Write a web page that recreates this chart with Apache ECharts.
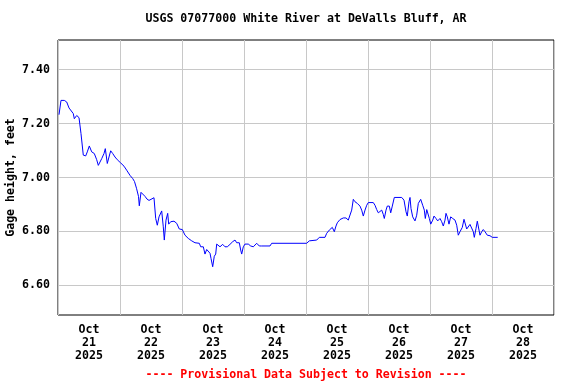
<!DOCTYPE html>
<html>
<head>
<meta charset="utf-8">
<script src="https://cdn.jsdelivr.net/npm/echarts@6/dist/echarts.min.js"></script>
<style>html,body{margin:0;padding:0;background:#fff}#c{width:576px;height:384px}</style>
</head>
<body>
<div id="c"></div>
<script>
// Hours since 2025-10-21 00:00
const hours = [0.39,1.16,2.44,3.37,4.26,5.03,5.92,6.31,7.24,8.13,8.52,8.90,9.79,10.72,11.34,12.12,13.05,14.05,14.98,15.60,16.2,16.92,17.81,18.31,19.08,19.74,20.40,21.17,22.07,22.95,24.27,25.55,26.59,27.87,28.92,
29.61,30.39,31.16,31.47,32.13,32.9,33.68,34.45,35.23,36.0,37.16,37.82,38.44,39.1,40.14,40.76,41.15,41.81,42.46,42.85,43.63,44.9,45.95,46.95,48.12,49.16,50.44,51.76,53.03,54.70,55.24,56.25,56.9,57.56,58.18,58.84,59.23,59.88,60.5,61.05,61.43,62.05,62.71,63.75,64.65,65.54,66.58,67.63,68.52,69.17,70.18,70.72,71.11,71.73,72.39,73.66,74.59,75.6,76.92,77.92,78.85,82.06,82.72,96.27,97.28,100.15,101.15,103.35,104.01,105.02,106.18,106.96,107.61,108.12,109.16,110.44,111.48,112.37,113.03,113.69,114.31,114.97,115.86,116.9,117.56,118.18,118.84,119.5,120.12,122.05,122.71,123.37,123.99,124.65,125.31,125.92,126.31,126.97,127.47,128.25,128.79,129.41,130.18,133.05,133.94,134.71,135.21,135.87,136.26,136.65,137.3,138.19,138.85,139.48,140.4,141.17,141.8,142.19,142.74,143.35,143.74,144.28,145.06,145.55,146.32,146.98,147.87,148.53,149.15,149.81,150.19,150.7,151.35,152.01,152.79,153.68,154.34,154.95,155.61,156.5,157.16,157.55,158.21,158.83,159.48,160.14,160.76,161.15,161.81,162.31,162.97,163.35,164.01,164.63,165.29,166.18,167.23,168.12,170.21];
const gage = [7.233,7.286,7.286,7.28,7.258,7.256,7.237,7.218,7.23,7.222,7.218,7.163,7.083,7.08,7.095,7.117,7.095,7.089,7.066,7.045,7.04,7.07,7.089,7.107,7.052,7.076,7.099,7.089,7.076,7.066,7.054,7.042,7.027,7.008,6.996,
6.985,6.96,6.93,6.895,6.945,6.94,6.93,6.92,6.915,6.92,6.925,6.848,6.823,6.854,6.876,6.817,6.768,6.842,6.867,6.827,6.836,6.838,6.830,6.809,6.807,6.786,6.774,6.765,6.758,6.756,6.743,6.743,6.716,6.733,6.737,6.719,6.70,6.669,6.708,6.716,6.753,6.753,6.743,6.752,6.743,6.743,6.752,6.762,6.768,6.758,6.758,6.731,6.716,6.743,6.753,6.753,6.746,6.743,6.756,6.746,6.746,6.746,6.756,6.756,6.765,6.768,6.778,6.778,6.793,6.805,6.815,6.799,6.82,6.832,6.844,6.85,6.85,6.842,6.838,6.879,6.919,6.91,6.904,6.894,6.879,6.857,6.879,6.897,6.907,6.907,6.897,6.881,6.869,6.873,6.879,6.863,6.848,6.879,6.894,6.894,6.869,6.894,6.926,6.926,6.916,6.873,6.857,6.91,6.926,6.885,6.854,6.839,6.86,6.904,6.919,6.897,6.879,6.848,6.881,6.881,6.848,6.827,6.842,6.857,6.848,6.839,6.848,6.836,6.82,6.842,6.867,6.854,6.827,6.854,6.848,6.842,6.823,6.786,6.799,6.815,6.845,6.842,6.809,6.811,6.826,6.826,6.799,6.778,6.811,6.838,6.805,6.786,6.799,6.807,6.799,6.786,6.784,6.778,6.778];
const yTicks = [6.60, 6.80, 7.00, 7.20, 7.40];
const dayLabels = ['21','22','23','24','25','26','27','28'];
const monthLabel = 'Oct';
const yearLabel = '2025';
const titleText = 'USGS 07077000 White River at DeValls Bluff, AR';
const footerText = '---- Provisional Data Subject to Revision ----';
const yName = 'Gage height, feet';

const start = Date.UTC(2025, 9, 21, 0, 0);
const H = 3600 * 1000;
const D = 24 * H;
const data = hours.map((h, i) => [start + h * H, gage[i]]);
const midnights = [];
for (let i = 0; i <= 8; i++) midnights.push(start + i * D);
const noons = dayLabels.map((d, i) => start + i * D + 12 * H);

const FONT = '"DejaVu Sans Mono", monospace';
const chart = echarts.init(document.getElementById('c'), null, {renderer: 'canvas'});
chart.setOption({
  animation: false,
  backgroundColor: '#ffffff',
  grid: {left: 58, top: 40, width: 496, height: 275, show: true, borderColor: '#000', borderWidth: 1, backgroundColor: 'transparent', containLabel: false, outerBoundsMode: 'none'},
  graphic: [
    {type: 'text', x: 306, y: 19, style: {text: titleText, fill: '#000', font: 'bold 11.6px ' + FONT, textAlign: 'center', textVerticalAlign: 'middle'}},
    {type: 'text', x: 306, y: 375, style: {text: footerText, fill: '#ff0000', font: 'bold 11.6px ' + FONT, textAlign: 'center', textVerticalAlign: 'middle'}}
  ],
  xAxis: {
    type: 'value', min: start, max: start + 8 * D,
    axisLine: {show: false},
    axisTick: {show: false, customValues: midnights},
    splitLine: {show: true, lineStyle: {color: '#c8c8c8', width: 1}},
    axisLabel: {
      customValues: noons, margin: 8,
      formatter: v => monthLabel + '\n' + dayLabels[Math.floor((v - start) / D)] + '\n' + yearLabel,
      color: '#000', fontFamily: FONT, fontWeight: 'bold', fontSize: 11.6, lineHeight: 13, align: 'center'
    }
  },
  yAxis: {
    type: 'value', min: 6.49, max: 7.51,
    name: yName, nameLocation: 'middle', nameGap: 41, nameRotate: 90, nameMoveOverlap: false,
    nameTextStyle: {color: '#000', fontFamily: FONT, fontWeight: 'bold', fontSize: 11.6},
    axisLine: {show: false},
    axisTick: {show: false, customValues: yTicks},
    splitLine: {show: true, lineStyle: {color: '#c8c8c8', width: 1}},
    axisLabel: {customValues: yTicks, margin: 8, formatter: v => v.toFixed(2), color: '#000', fontFamily: FONT, fontWeight: 'bold', fontSize: 11.6}
  },
  series: [{
    type: 'line', data: data, showSymbol: false, symbol: 'none',
    lineStyle: {color: '#0000ff', width: 1}, silent: true
  }]
});
</script>
</body>
</html>
